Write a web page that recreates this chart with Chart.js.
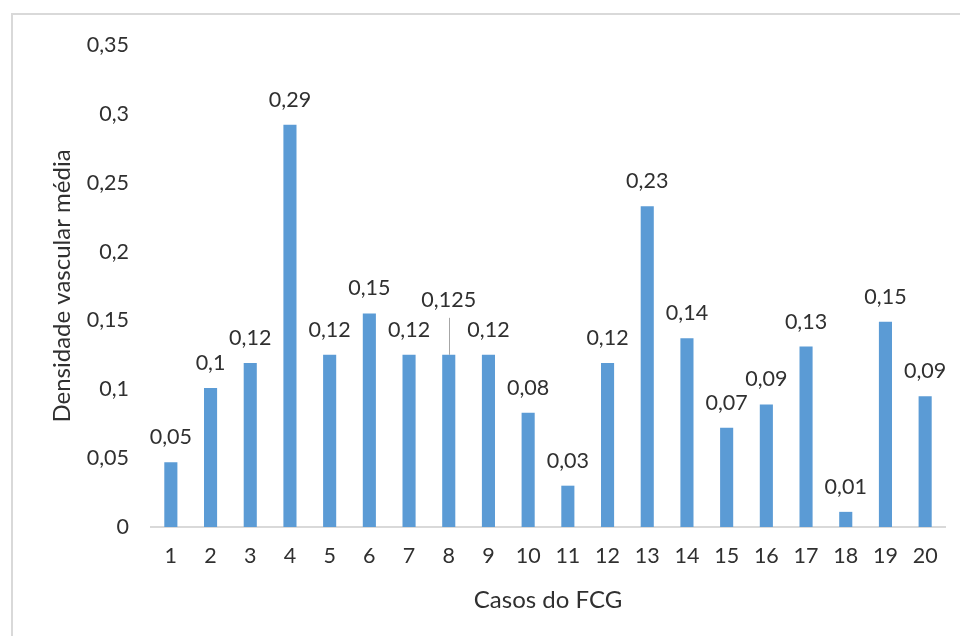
<!DOCTYPE html>
<html>
<head>
<meta charset="utf-8">
<script src="https://cdn.jsdelivr.net/npm/chart.js@4.4.1/dist/chart.umd.min.js"></script>
<style>
html,body{margin:0;padding:0;background:#fff;overflow:hidden}
#wrap{position:relative;width:960px;height:636px}
</style>
</head>
<body>
<div id="wrap"><canvas id="c" width="960" height="636"></canvas></div>
<script>
// ---- data ----
const categories = ['1','2','3','4','5','6','7','8','9','10','11','12','13','14','15','16','17','18','19','20'];
const values = [0.047,0.101,0.119,0.292,0.125,0.155,0.125,0.125,0.125,0.083,0.030,0.119,0.233,0.137,0.072,0.089,0.131,0.011,0.149,0.095];
const valueLabels = ['0,05','0,1','0,12','0,29','0,12','0,15','0,12','0,125','0,12','0,08','0,03','0,12','0,23','0,14','0,07','0,09','0,13','0,01','0,15','0,09'];
const yTicks = [0,0.05,0.1,0.15,0.2,0.25,0.3,0.35];
const yTickLabels = ['0','0,05','0,1','0,15','0,2','0,25','0,3','0,35'];
const xTitle = 'Casos do FCG';
const yTitle = 'Densidade vascular média';
const leaderLabelIndex = 7;

const FONT = 'Lato, "Open Sans", sans-serif';
const TXT = '#303030';

const frame = {
  id: 'frame',
  beforeDraw(chart) {
    const ctx = chart.ctx;
    ctx.save();
    ctx.fillStyle = '#fff';
    ctx.fillRect(0, 0, chart.width, chart.height);
    ctx.strokeStyle = '#d9d9d9';
    ctx.lineWidth = 2;
    ctx.beginPath();
    ctx.moveTo(12, chart.height);
    ctx.lineTo(12, 14);
    ctx.lineTo(chart.width, 14);
    ctx.stroke();
    ctx.restore();
  }
};

const dataLabels = {
  id: 'dataLabels',
  afterDatasetsDraw(chart) {
    const ctx = chart.ctx;
    const meta = chart.getDatasetMeta(0);
    ctx.save();
    ctx.font = '21.5px ' + FONT;
    ctx.fillStyle = TXT;
    ctx.textAlign = 'center';
    ctx.textBaseline = 'middle';
    meta.data.forEach((bar, i) => {
      let off = 25;
      if (i === leaderLabelIndex) {
        off = 55;
        ctx.strokeStyle = '#a6a6a6';
        ctx.lineWidth = 1;
        ctx.beginPath();
        ctx.moveTo(Math.round(bar.x) + 0.5, bar.y - 37);
        ctx.lineTo(Math.round(bar.x) + 0.5, bar.y);
        ctx.stroke();
      }
      ctx.fillText(valueLabels[i], bar.x, bar.y - off);
    });
    ctx.restore();
  }
};

new Chart(document.getElementById('c'), {
  type: 'bar',
  data: {
    labels: categories,
    datasets: [{
      data: values,
      backgroundColor: '#5b9bd5',
      borderWidth: 0,
      barPercentage: 0.33,
      categoryPercentage: 1.0
    }]
  },
  options: {
    responsive: false,
    devicePixelRatio: 1,
    animation: false,
    layout: { padding: { top: 45, right: 15, left: 0, bottom: 0 } },
    plugins: { legend: { display: false }, tooltip: { enabled: false } },
    scales: {
      x: {
        offset: true,
        grid: { display: false, drawTicks: false },
        border: { display: true, color: '#d9d9d9', width: 2 },
        ticks: { color: TXT, font: { family: FONT, size: 21.5 }, padding: 16, maxRotation: 0, autoSkip: false },
        title: { display: true, text: xTitle, color: TXT, font: { family: FONT, size: 24 }, padding: { top: 0, bottom: 21.6 } },
        afterFit(scale) { scale.height = 109; }
      },
      y: {
        min: 0,
        max: 0.35,
        grid: { display: false, drawTicks: false },
        border: { display: false },
        afterBuildTicks(scale) { scale.ticks = yTicks.map(v => ({ value: v })); },
        ticks: {
          color: TXT,
          font: { family: FONT, size: 21.5 },
          padding: 22,
          callback: (v, i) => yTickLabels[i]
        },
        title: { display: true, text: yTitle, color: TXT, font: { family: FONT, size: 24 }, padding: { top: 47.6, bottom: 0 } },
        afterFit(scale) { scale.width = 151; }
      }
    }
  },
  plugins: [frame, dataLabels]
});
</script>
</body>
</html>
